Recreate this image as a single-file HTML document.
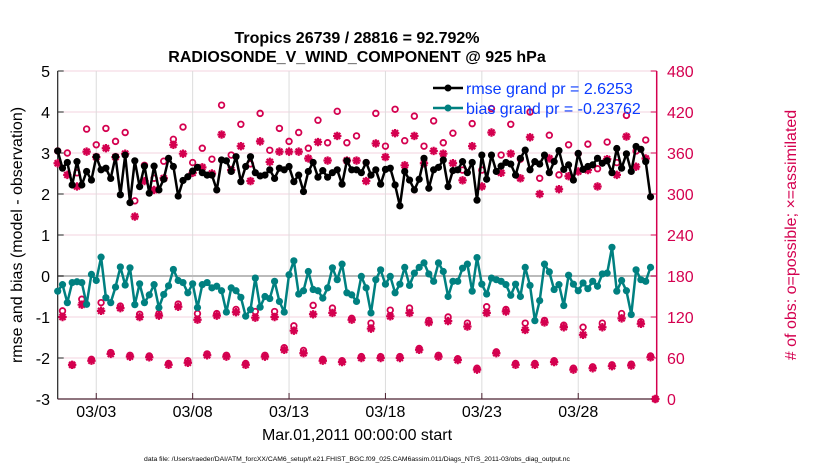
<!DOCTYPE html>
<html><head><meta charset="utf-8"><style>
html,body{margin:0;padding:0;background:#fff;}
svg{display:block;font-family:"Liberation Sans",Arial,sans-serif;}
</style></head><body>
<svg id="chart" width="830" height="470" viewBox="0 0 830 470">
<text x="357" y="43" text-anchor="middle" font-size="16" font-weight="bold">Tropics 26739 / 28816 = 92.792%</text>
<text x="357" y="62" text-anchor="middle" font-size="16" font-weight="bold">RADIOSONDE_V_WIND_COMPONENT @ 925 hPa</text>
<g id="grid"></g>
<g id="axes"></g>
<g id="marks"></g>
<text transform="translate(22,235) rotate(-90)" text-anchor="middle" font-size="16">rmse and bias (model - observation)</text>
<text transform="translate(796,235) rotate(-90)" text-anchor="middle" font-size="16" fill="#d4004f"># of obs: o=possible; ×=assimilated</text>
<text x="357" y="440" text-anchor="middle" font-size="16">Mar.01,2011 00:00:00 start</text>
<text x="357" y="461" text-anchor="middle" font-size="6.8">data file: /Users/raeder/DAI/ATM_forcXX/CAM6_setup/f.e21.FHIST_BGC.f09_025.CAM6assim.011/Diags_NTrS_2011-03/obs_diag_output.nc</text>
<g id="legend">
<line x1="433" y1="88" x2="463" y2="88" stroke="#000" stroke-width="2.5"/><circle cx="448" cy="88" r="3.5" fill="#000"/>
<text x="466" y="94" font-size="16" fill="#0a3cff">rmse grand pr = 2.6253</text>
<line x1="433" y1="108" x2="463" y2="108" stroke="#008080" stroke-width="2.5"/><circle cx="448" cy="108" r="3.5" fill="#008080"/>
<text x="466" y="114" font-size="16" fill="#0a3cff">bias grand pr = -0.23762</text>
</g>
</svg>
<script>
const xTickLabels = ["03/03","03/08","03/13","03/18","03/23","03/28"];
const xTickDays = [2,7,12,17,22,27];
const leftTicks = [-3,-2,-1,0,1,2,3,4,5];
const rightTicks = [0,60,120,180,240,300,360,420,480];
const rmse = [3.05,2.63,2.77,2.22,2.79,2.22,2.55,2.34,2.91,2.59,2.63,2.38,2.91,1.98,2.95,1.79,2.81,2.18,2.68,2.02,2.68,2.10,2.36,2.87,2.67,1.95,2.33,2.42,2.56,2.65,2.52,2.46,
2.46,2.10,2.83,2.81,2.55,2.91,2.30,2.67,2.91,2.52,2.44,2.46,2.59,2.38,2.63,2.59,2.67,2.30,2.46,2.06,2.55,2.77,2.41,2.57,2.41,2.52,2.59,2.24,2.81,2.59,2.59,
2.52,2.77,2.46,2.59,2.24,2.60,2.63,2.22,1.71,2.55,2.34,2.10,2.36,2.87,2.14,2.59,2.65,2.83,2.18,2.57,2.59,2.79,2.52,2.77,1.85,2.95,2.36,2.95,2.55,2.68,2.77,
2.73,2.46,2.87,3.07,2.59,2.79,2.73,2.95,2.52,2.79,3.06,2.60,2.71,2.34,2.99,2.60,2.67,2.71,2.87,2.75,2.81,2.52,3.11,2.63,2.98,2.55,3.16,3.09,2.79,1.93];
const bias = [-0.37,-0.21,-0.65,-0.16,-0.14,-0.16,-0.69,0.04,-0.11,0.46,-0.53,-0.65,-0.27,0.22,-0.22,0.20,-0.70,-0.19,-0.65,-0.46,-0.21,-0.77,-0.45,-0.24,0.16,-0.11,-0.16,-0.41,-0.19,-0.77,-0.21,-0.16,
-0.29,-0.25,-0.36,-0.88,-0.29,-0.36,-0.52,-0.98,-0.82,-0.05,-0.76,-0.50,-0.55,-0.13,-0.62,-0.88,0.03,0.37,-0.44,-0.36,0.11,-0.33,-0.36,-0.54,-0.29,0.20,-0.09,0.29,-0.41,-0.46,-0.62,
-0.01,-0.29,-0.90,-0.09,0.15,-0.20,-0.01,-0.41,-0.20,0.21,-0.23,0.07,0.21,0.32,0.05,-0.13,0.32,0.11,-0.50,-0.13,-0.13,0.19,0.29,-0.37,0.45,-0.20,-0.44,-0.05,-0.09,-0.13,-0.21,
-0.47,-0.20,-0.50,0.21,-0.23,-1.09,-0.60,0.29,0.10,-0.33,-0.21,-0.72,0.02,-0.20,-0.36,-0.17,-0.31,-0.13,-0.25,0.05,0.07,0.70,-0.37,-0.11,-0.36,-0.94,0.15,-0.09,-0.13,0.21];
const possible = [363,129,360,50,331,146,395,58,372,141,396,68,377,136,390,64,290,124,342,63,323,125,348,52,380,139,398,56,346,125,367,66,
351,125,430,64,357,131,402,52,344,128,418,64,364,128,396,75,377,107,390,71,367,137,408,58,375,133,421,56,375,118,385,
62,346,111,418,62,370,130,424,62,378,133,414,74,370,115,407,64,375,120,389,59,335,111,403,45,335,135,425,69,357,131,
402,52,351,111,420,52,323,115,386,56,328,108,372,45,359,105,373,47,337,111,376,50,346,125,415,51,363,113,379,63,0];
const assimilated = [345,120,328,50,311,138,362,56,354,129,367,66,354,133,359,62,267,120,319,61,306,122,323,50,372,135,359,53,331,116,339,64,
330,122,387,62,335,127,370,50,319,119,377,62,347,120,362,72,362,100,362,67,352,124,376,56,349,126,385,54,349,116,349,
60,319,103,374,60,354,121,389,60,342,126,385,72,345,112,363,62,359,114,345,57,320,106,370,43,311,126,390,67,331,128,
359,50,323,101,383,50,300,112,352,54,307,105,326,43,333,94,335,45,311,105,351,48,328,118,384,49,340,110,352,61,0];
const stepDays = 0.25;

const NS = "http://www.w3.org/2000/svg";
const X0 = 57.7, X1 = 656.7, DAYMAX = 31.07, YT = 71, YB = 399;
const MAG = "#d4004f";
function xOf(d){ return X0 + (X1 - X0) * d / DAYMAX; }
function yL(v){ return YB - (v + 3) / 8 * (YB - YT); }
function yR(n){ return YB - n / 480 * (YB - YT); }
function mk(tag, attrs, parent){ const e = document.createElementNS(NS, tag); for (const k in attrs) e.setAttribute(k, attrs[k]); parent.appendChild(e); return e; }
const grid = document.getElementById('grid'), axes = document.getElementById('axes'), marks = document.getElementById('marks');

rightTicks.forEach(n => {
  const l = mk('line', {x1:X0, x2:X1, y1:yR(n), y2:yR(n), stroke:'#f3d3df', 'stroke-width':1}, grid);
  
  
});
xTickDays.forEach((d, i) => {
  const l = mk('line', {x1:xOf(d), x2:xOf(d), y1:YT, y2:YB, stroke:'#dcdcdc', 'stroke-width':1}, grid);
  
  
  const t = mk('line', {x1:xOf(d), x2:xOf(d), y1:YB, y2:YB - 6, stroke:'#4a2030', 'stroke-width':1}, axes);
  
  
  const tx = mk('text', {x:xOf(d), y:417, 'text-anchor':'middle', 'font-size':16}, axes);
  tx.textContent = xTickLabels[i];
  
  
});
const zl = mk('line', {x1:X0, x2:X1, y1:yL(0), y2:yL(0), stroke:'#bbbbbb', 'stroke-width':2}, grid);



leftTicks.forEach(v => {
  const t = mk('line', {x1:X0, x2:X0 + 6, y1:yL(v), y2:yL(v), stroke:'#222', 'stroke-width':1}, axes);
  
  
  const tx = mk('text', {x:50, y:yL(v) + 6, 'text-anchor':'end', 'font-size':16}, axes);
  tx.textContent = String(v);
  
  
});
rightTicks.forEach(n => {
  const t = mk('line', {x1:X1 - 6, x2:X1, y1:yR(n), y2:yR(n), stroke:MAG, 'stroke-width':1}, axes);
  
  
  const tx = mk('text', {x:667, y:yR(n) + 6, 'font-size':16, fill:MAG}, axes);
  tx.textContent = String(n);
  
  
});
const la = mk('line', {x1:X0, x2:X0, y1:YT, y2:YB, stroke:'#222', 'stroke-width':1.2}, axes);


const ba = mk('line', {x1:X0, x2:X1, y1:YB, y2:YB, stroke:'#4a2030', 'stroke-width':1.2}, axes);


const ra = mk('line', {x1:X1, x2:X1, y1:YT, y2:YB, stroke:MAG, 'stroke-width':1.5}, axes);



function drawLine(vals, color, name){
  const pts = vals.map((v, i) => xOf(i * stepDays).toFixed(1) + ',' + yL(v).toFixed(1)).join(' ');
  const pl = mk('polyline', {points:pts, fill:'none', stroke:color, 'stroke-width':2.5, 'stroke-linejoin':'round'}, marks);
  
  
  vals.forEach((v, i) => {
    const c = mk('circle', {cx:xOf(i * stepDays), cy:yL(v), r:3.6, fill:color}, marks);
    
    
  });
}
assimilated.forEach((n, i) => {
  const cx = xOf(i * stepDays), cy = yR(n), s = 4.2, d = s * 0.72;
  const p = mk('path', {d:`M${cx-s},${cy}H${cx+s}M${cx},${cy-s}V${cy+s}M${cx-d},${cy-d}L${cx+d},${cy+d}M${cx-d},${cy+d}L${cx+d},${cy-d}`, stroke:MAG, 'stroke-width':2.2, fill:'none'}, marks);
  
  
});
possible.forEach((n, i) => {
  const c = mk('circle', {cx:xOf(i * stepDays), cy:yR(n), r:2.8, fill:'none', stroke:MAG, 'stroke-width':1.8}, marks);
  
  
});
drawLine(rmse, '#000000', 'rmse');
drawLine(bias, '#008080', 'bias');
</script>
</body></html>
